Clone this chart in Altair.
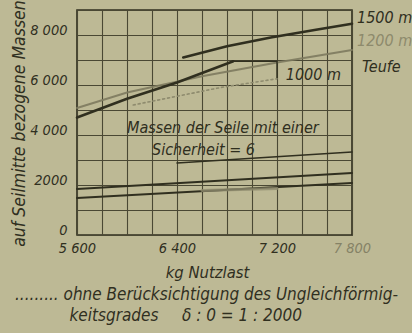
import altair as alt
import pandas as pd

# Nutzlast (kg) against the masses referred to the rope centre, per shaft depth
x_1500 = [6450, 6800, 7150, 7500, 7800]
y_1500 = [7100, 7550, 7900, 8200, 8450]
x_1200 = [5600, 6000, 6600, 7200, 7800]
y_1200 = [5080, 5700, 6350, 6900, 7400]
x_1000 = [5600, 6000, 6400, 6850]
y_1000 = [4700, 5450, 6100, 6950]
# leader from the end of the 1000 m curve to its label
x_1000_lead = [6850, 7200, 7200]
y_1000_lead = [6950, 6950, 6250]
# without the irregularity factor (dotted)
x_ohne = [6050, 6450, 6750, 7200]
y_ohne = [5200, 5600, 5900, 6250]
# masses of the ropes alone
x_seil_a = [6400, 7800]
y_seil_a = [2880, 3320]
x_seil_b = [5600, 7800]
y_seil_b = [1840, 2480]
x_seil_c = [5600, 7800]
y_seil_c = [1480, 2080]
x_seil_ohne = [6600, 7200]
y_seil_ohne = [1780, 1860]

# grid and tick labels
x_grid = [5600, 5800, 6000, 6200, 6400, 6600, 6800, 7000, 7200, 7400, 7600, 7800]
x_ticks = [5600, 6400, 7200, 7800]
x_tick_text = ["5 600", "6 400", "7 200", "7 800"]
y_grid = [0, 1000, 2000, 3000, 4000, 5000, 6000, 7000, 8000, 9000]
y_ticks = [0, 2000, 4000, 6000, 8000]
y_tick_text = ["0", "2000", "4 000", "6 000", "8 000"]

# annotation texts with their anchor in data units
note_text = ["Massen der Seile mit einer", "Sicherheit = 6", "1500 m", "1200 m",
             "Teufe", "1000 m"]
note_x = [6000, 6200, 7840, 7840, 7880, 7270]
note_y = [4280, 3400, 8680, 7760, 6720, 6400]
note_col = ["#2f2e1e", "#2f2e1e", "#2f2e1e", "#8d8a6c", "#2f2e1e", "#2f2e1e"]

foot_text = ["......... ohne Berücksichtigung des Ungleichförmig-",
             "keitsgrades", "δ : 0 = 1 : 2000"]
foot_x = [5104, 5540, 6440]
foot_y = [-2380, -3230, -3230]

INK = "#302f1f"
FONT = "'DejaVu Sans Condensed', 'Liberation Sans Narrow', 'Liberation Sans', sans-serif"


def path(xs, ys):
    return pd.DataFrame({"x": xs, "y": ys, "i": list(range(len(xs)))})


def expr_map(keys, texts):
    e = "''"
    for k, t in reversed(list(zip(keys, texts))):
        e = f"datum.value == {k} ? '{t}' : ({e})"
    return e


xs = alt.Scale(domain=[5600, 7800], nice=False, zero=False)
ys = alt.Scale(domain=[0, 9000], nice=False, zero=False)

x_axis = alt.Axis(values=x_grid, labelExpr=expr_map(x_ticks, x_tick_text),
                  title="kg Nutzlast", titleX=130, titleY=37, titleAlign="center",
                  titleBaseline="middle", titleFontSize=16.5, titleFont=FONT,
                  titleFontStyle="italic", titleFontWeight="normal", titleColor=INK,
                  labelFont=FONT, labelFontStyle="italic", labelFontSize=14.5,
                  labelPadding=6, labelBaseline="top",
                  labelColor={"condition": {"test": "datum.value == 7800",
                                            "value": "#858266"}, "value": INK},
                  labelFlush=False, labelOverlap=False,
                  grid=True, gridColor="#4a4834", gridWidth=1.1, gridOpacity=1)
y_axis = alt.Axis(values=y_grid, labelExpr=expr_map(y_ticks, y_tick_text),
                  title="auf Seilmitte bezogene Massen", titleX=-58, titleY=113,
                  titleAngle=270, titleAlign="center", titleBaseline="middle",
                  titleFontSize=17.5, titleFont=FONT, titleFontStyle="italic",
                  titleFontWeight="normal", titleColor=INK,
                  labelFont=FONT, labelFontStyle="italic", labelFontSize=14.5,
                  labelPadding=10, labelOffset=-5, labelColor=INK,
                  labelFlush=False, labelOverlap=False,
                  grid=True, gridColor="#4a4834", gridWidth=1.1, gridOpacity=1)

X = alt.X("x:Q", scale=xs, axis=x_axis)
Y = alt.Y("y:Q", scale=ys, axis=y_axis)


def line(xs_, ys_, width=2.4, color=INK, dash=None, opacity=1.0):
    kw = dict(strokeWidth=width, color=color, opacity=opacity, clip=False,
              strokeCap="round")
    if dash:
        kw["strokeDash"] = dash
    return alt.Chart(path(xs_, ys_)).mark_line(**kw).encode(x=X, y=Y, order="i:Q")


layers = [
    line(x_1500, y_1500, 2.6),
    line(x_1200, y_1200, 2.0, "#7d7a5e", opacity=0.9),
    line(x_1000, y_1000, 2.6),
    line(x_1000_lead, y_1000_lead, 1.4),
    line(x_ohne, y_ohne, 1.6, "#8e8b6e", dash=[2, 3]),
    line(x_seil_a, y_seil_a, 1.6),
    line(x_seil_b, y_seil_b, 2.0),
    line(x_seil_c, y_seil_c, 2.0),
    line(x_seil_ohne, y_seil_ohne, 3.0, "#8e8b6e", opacity=0.8),
]

notes = pd.DataFrame({"t": note_text, "x": note_x, "y": note_y, "c": note_col})
layers.append(
    alt.Chart(notes).mark_text(font=FONT, fontStyle="italic", fontSize=16,
                               align="left", baseline="middle", clip=False)
    .encode(x=X, y=Y, text="t:N", color=alt.Color("c:N", scale=None))
)
foot = pd.DataFrame({"t": foot_text, "x": foot_x, "y": foot_y})
layers.append(
    alt.Chart(foot).mark_text(font=FONT, fontStyle="italic", fontSize=17,
                              align="left", baseline="middle", color=INK, clip=False)
    .encode(x=X, y=Y, text="t:N")
)

chart = (
    alt.layer(*layers)
    .properties(width=275, height=225,
                padding={"left": 77, "top": 10, "right": 60, "bottom": 98},
                autosize=alt.AutoSizeParams(type="none"))
    .configure(background="#bdb995")
    .configure_view(stroke=INK, strokeWidth=1.6)
    .configure_axis(domain=False, ticks=False, tickSize=0)
)

chart.save("out.html", embed_options={"renderer": "svg", "actions": False})
